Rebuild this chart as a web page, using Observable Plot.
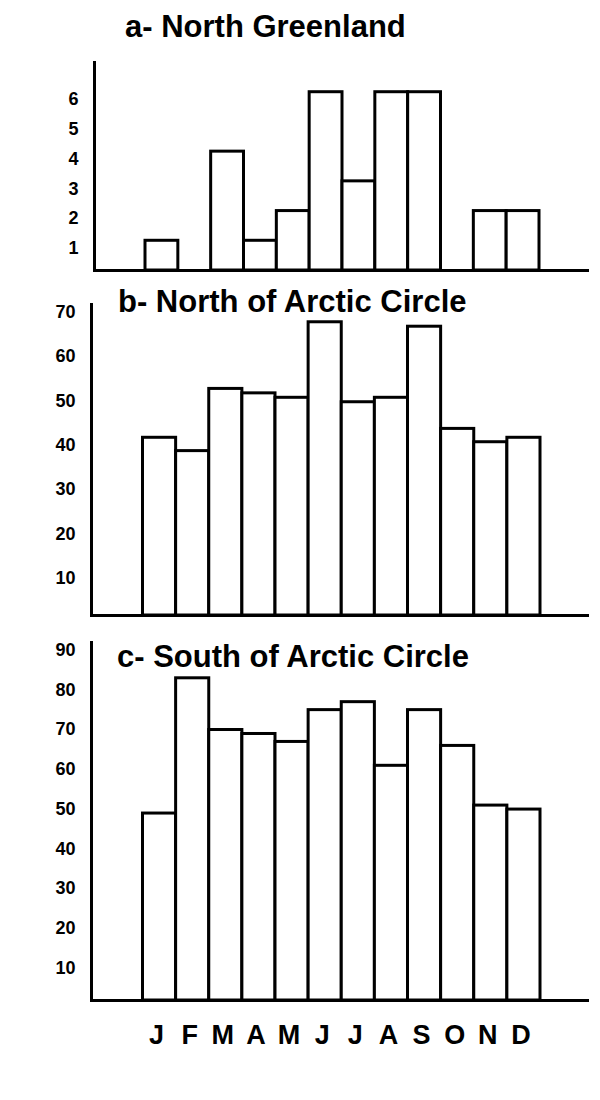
<!DOCTYPE html>
<html>
<head>
<meta charset="utf-8">
<script src="https://cdn.jsdelivr.net/npm/d3@7"></script>
<script src="https://cdn.jsdelivr.net/npm/@observablehq/plot@0.6"></script>
<style>
  body { margin: 0; background: #fff; }
  #wrap { position: relative; width: 600px; height: 1100px; font-family: "Liberation Sans", Arial, sans-serif; }
  .panel { position: absolute; left: 0; }
  .title { position: absolute; font-weight: bold; font-size: 31px; line-height: 31px; white-space: nowrap; color: #000; }
</style>
</head>
<body>
<div id="wrap"></div>
<script>
// ---- data ----
const monthKeys   = ["Jan","Feb","Mar","Apr","May","Jun","Jul","Aug","Sep","Oct","Nov","Dec"];
const monthLabels = ["J","F","M","A","M","J","J","A","S","O","N","D"];

const titleA = "a- North Greenland";
const titleB = "b- North of Arctic Circle";
const titleC = "c- South of Arctic Circle";

const valuesA = [1, 0, 4, 1, 2, 6, 3, 6, 6, 0, 2, 2];
const valuesB = [40, 37, 51, 50, 49, 66, 48, 49, 65, 42, 39, 40];
const valuesC = [47, 81, 68, 67, 65, 73, 75, 59, 73, 64, 49, 48];

const ticksA = [1, 2, 3, 4, 5, 6];
const ticksB = [10, 20, 30, 40, 50, 60, 70];
const ticksC = [10, 20, 30, 40, 50, 60, 70, 80, 90];

const domainA = [0, 7];
const domainB = [0, 70];
const domainC = [0, 90];

// ---- build ----
const wrap = document.getElementById("wrap");
const FONT = "Liberation Sans, Arial, sans-serif";

function panel({values, ticks, domain, top, height, marginTop, marginBottom, marginLeft, xRange, showMonths}) {
  const data = monthKeys.map((m, i) => ({month: m, value: values[i]}));
  const marks = [
    Plot.barY(data, {x: "month", y: "value", fill: "white", stroke: "black", strokeWidth: 3}),
    Plot.frame({anchor: "left", stroke: "black", strokeWidth: 3}),
    Plot.frame({anchor: "bottom", stroke: "black", strokeWidth: 3}),
    Plot.axisY(ticks, {anchor: "left", label: null, tickSize: 0, tickPadding: 16, fontSize: 18, fontWeight: "bold", fill: "black", dy: 7.5, tickFormat: d => String(d)})
  ];
  if (showMonths) {
    marks.push(Plot.axisX({anchor: "bottom", label: null, tickSize: 0, tickPadding: 24, fontSize: 27, fontWeight: "bold", fill: "black", dx: -3,
      tickFormat: m => monthLabels[monthKeys.indexOf(m)]}));
  }
  const chart = Plot.plot({
    width: 600,
    height,
    marginTop,
    marginBottom,
    marginLeft,
    marginRight: 13,
    style: {fontFamily: FONT, background: "white", color: "black"},
    x: {domain: monthKeys, range: xRange, padding: 0, round: false, axis: null},
    y: {domain, axis: null},
    marks
  });
  const div = document.createElement("div");
  div.className = "panel";
  div.style.top = top + "px";
  div.appendChild(chart);
  wrap.appendChild(div);
}

panel({values: valuesA, ticks: ticksA, domain: domainA, top: 0,   height: 280, marginTop: 62, marginBottom: 10,  marginLeft: 94, xRange: [145, 539], showMonths: false});
panel({values: valuesB, ticks: ticksB, domain: domainB, top: 280, height: 345, marginTop: 24, marginBottom: 10,  marginLeft: 91, xRange: [142.5, 540], showMonths: false});
panel({values: valuesC, ticks: ticksC, domain: domainC, top: 625, height: 475, marginTop: 17, marginBottom: 100, marginLeft: 91, xRange: [142.5, 540], showMonths: true});

function title(text, left, top) {
  const d = document.createElement("div");
  d.className = "title";
  d.textContent = text;
  d.style.left = left + "px";
  d.style.top = top + "px";
  wrap.appendChild(d);
}
title(titleA, 125, 10.5);
title(titleB, 118, 286);
title(titleC, 117, 640.5);
</script>
</body>
</html>
